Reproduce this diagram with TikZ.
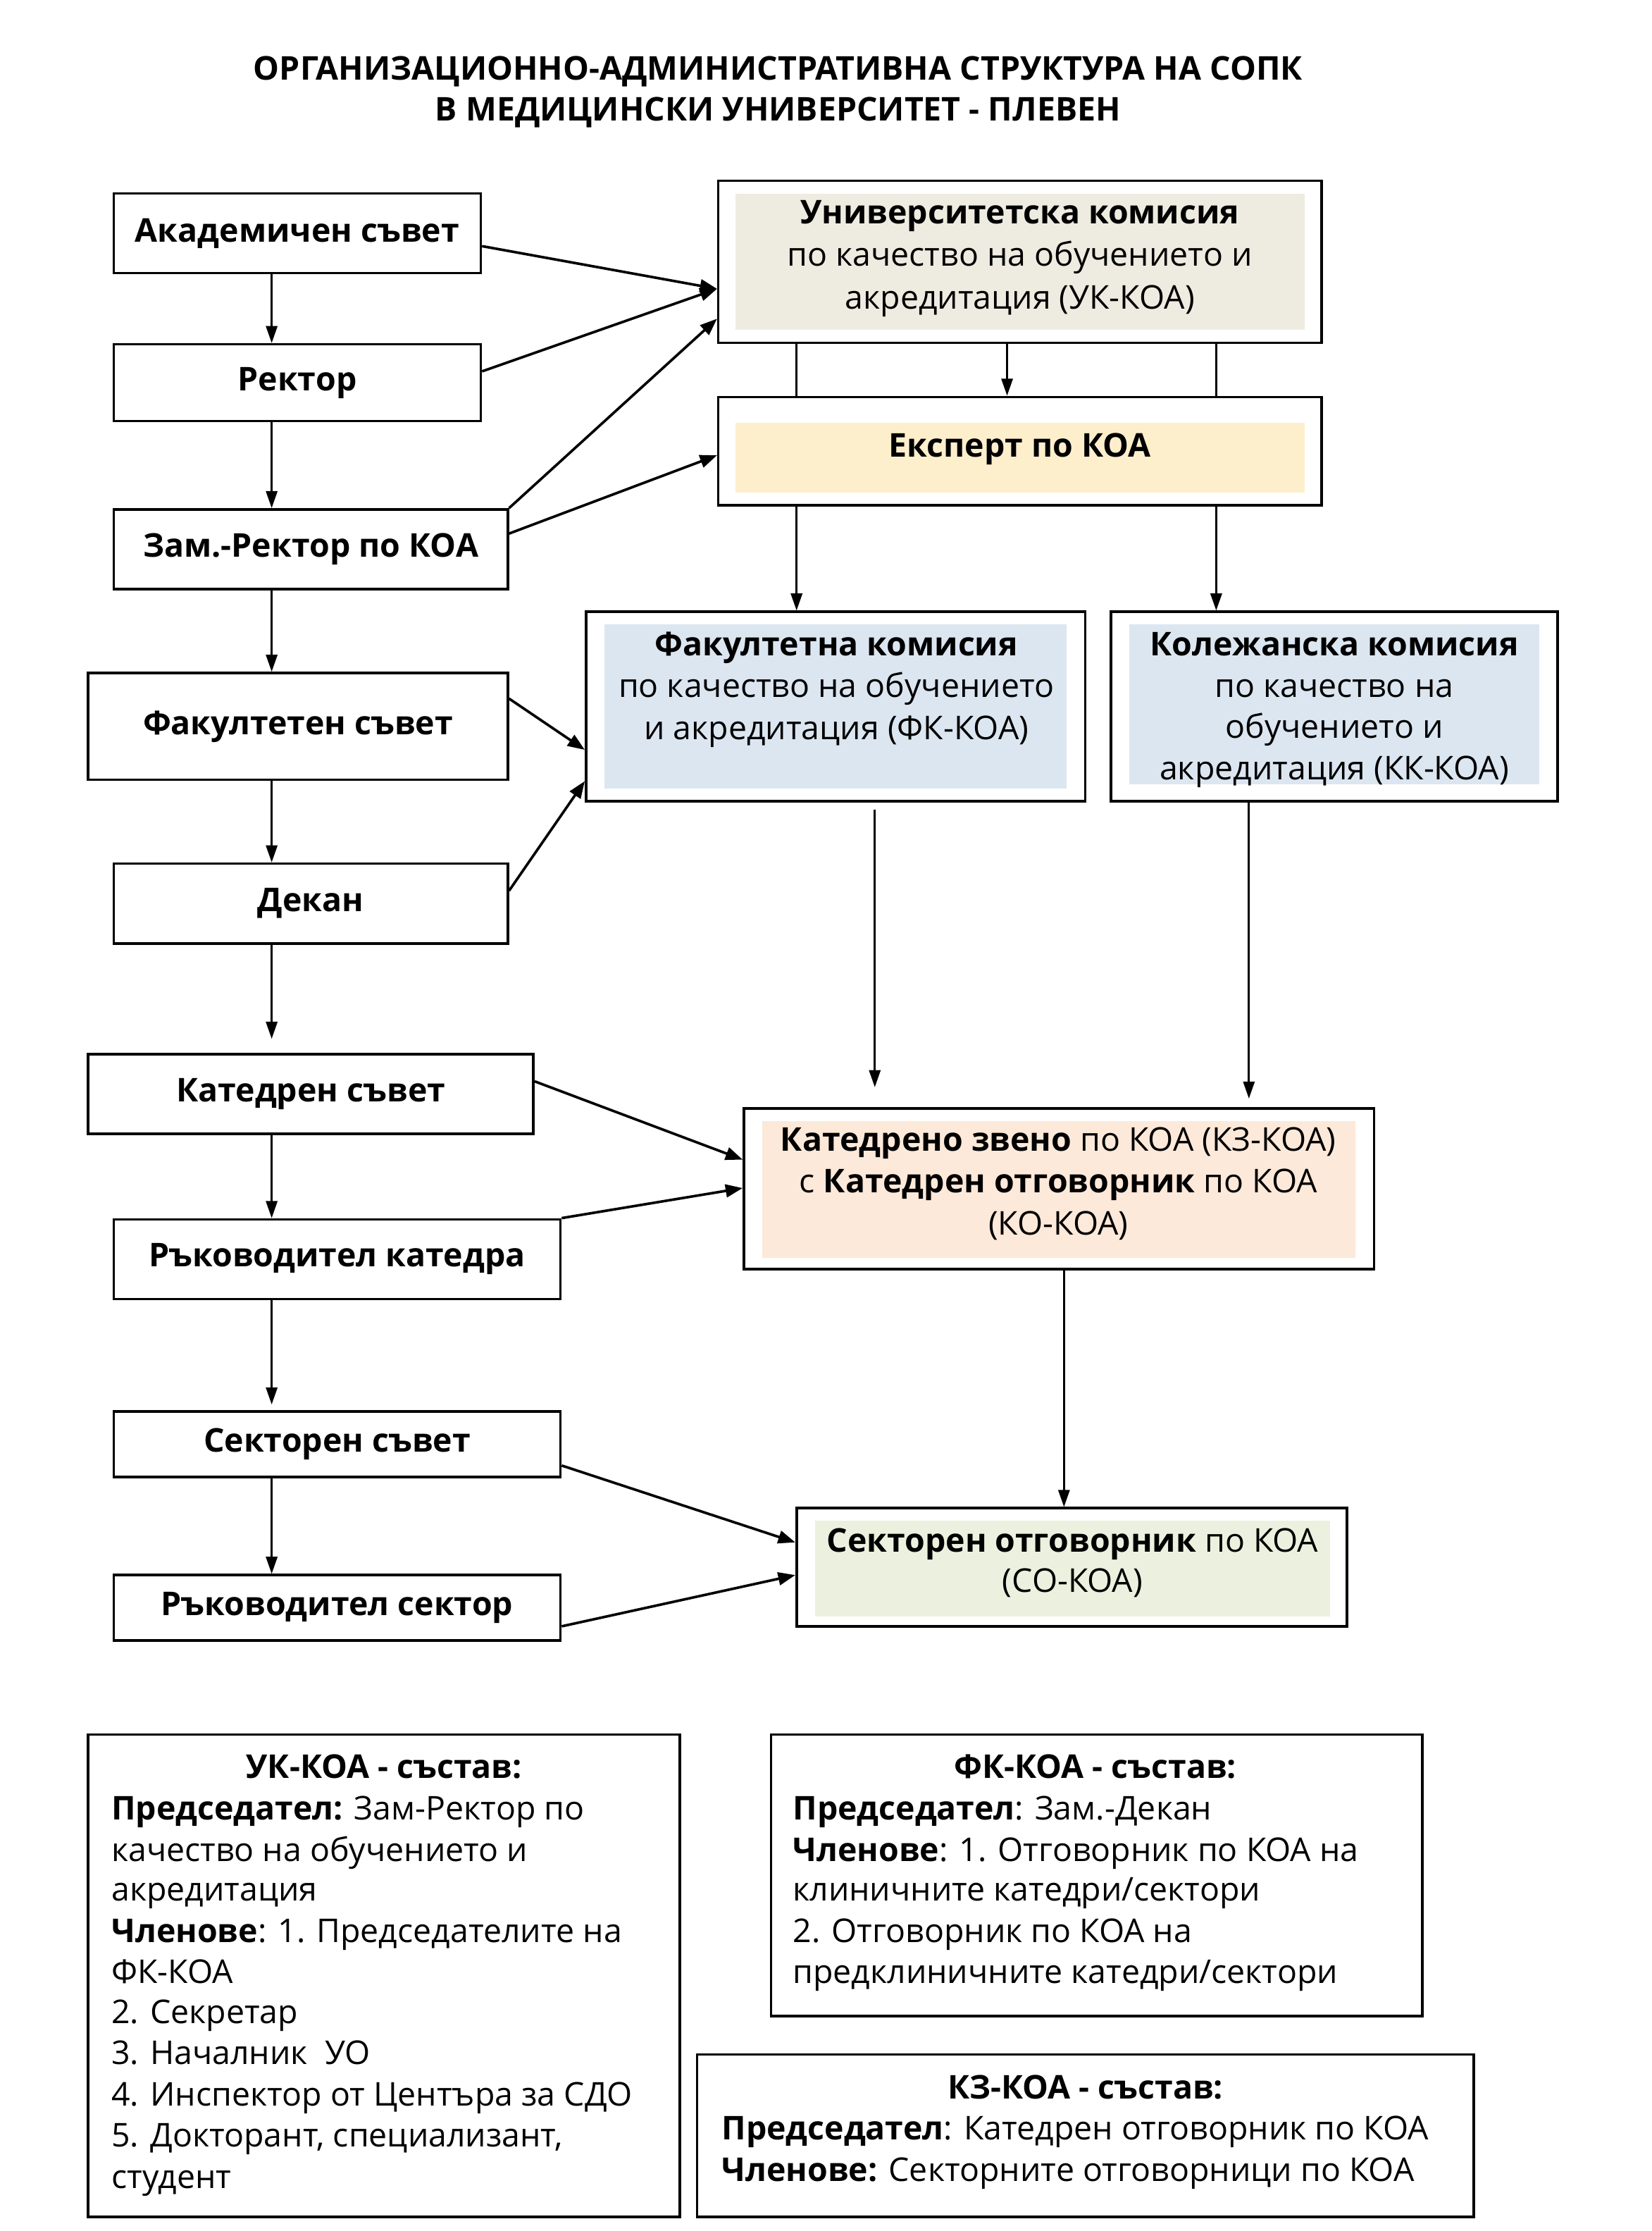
\documentclass[tikz,border=0pt]{standalone}
\usepackage{fontspec}
\setmainfont{Open Sans}
\usetikzlibrary{arrows.meta}
\newcommand\myfs{\fontsize{11.5pt}{14.5pt}\selectfont}
\definecolor{ukc}{HTML}{EEECE1}
\definecolor{expc}{HTML}{FDEFCC}
\definecolor{bluec}{HTML}{DCE6F1}
\definecolor{kzc}{HTML}{FDE9D9}
\definecolor{soc}{HTML}{EBF1DE}
\begin{document}
\begin{tikzpicture}[x=0.5pt,y=-0.5pt,
  box/.style={draw, line width=0.9pt, fill=white, inner sep=0pt, font=\myfs\bfseries},
  outer/.style={draw, line width=0.9pt, fill=white, inner sep=0pt},
  inner/.style={draw=none, inner sep=0pt},
  tx/.style={anchor=base, inner sep=0pt, font=\myfs},
  lt/.style={anchor=base west, inner sep=0pt, font=\myfs},
  arr/.style={line width=0.7pt, -{Triangle[length=6pt,width=4pt]}},
  darr/.style={line width=0.9pt, -{Triangle[length=6pt,width=4.5pt]}},
  ln/.style={line width=0.7pt}]
\useasboundingbox (0,0) rectangle (1161,1568);
\fill[white] (0,0) rectangle (1161,1568);

% title
\node[tx, font=\myfs\bfseries] (t1) at (547,56) {ОРГАНИЗАЦИОННО-АДМИНИСТРАТИВНА СТРУКТУРА НА СОПК};
\node[tx, font=\myfs\bfseries] (t2) at (547,85) {В МЕДИЦИНСКИ УНИВЕРСИТЕТ - ПЛЕВЕН};

% left column
\node[box, minimum width=129pt, minimum height=28pt] (acad) at (209,164) {Академичен съвет};
\node[box, minimum width=129pt, minimum height=27pt] (rect) at (209,269) {Ректор};
\node[box, minimum width=138.5pt, minimum height=28pt] (zam) at (218.5,386) {Зам.-Ректор по КОА};
\node[box, minimum width=147.5pt, minimum height=37.5pt] (fs) at (209.5,510.5) {Факултетен съвет};
\node[box, minimum width=138.5pt, minimum height=28pt] (dek) at (218.5,635) {Декан};
\node[box, minimum width=156.5pt, minimum height=28pt] (ks) at (218.5,769) {Катедрен съвет};
\node[box, minimum width=157pt, minimum height=28pt] (rk) at (237,885) {Ръководител катедра};
\node[box, minimum width=157pt, minimum height=23pt] (ss) at (237,1015) {Секторен съвет};
\node[box, minimum width=157pt, minimum height=23pt] (rs) at (237,1130) {Ръководител сектор};

% right column
\node[outer, minimum width=212pt, minimum height=57pt] (ukO) at (717,184) {};
\node[inner, fill=ukc, minimum width=200pt, minimum height=48pt] (ukI) at (717,184) {};
\node[tx, font=\myfs\bfseries] (uk1) at (717,157) {Университетска комисия};
\node[tx] (uk2) at (717,187) {по качество на обучението и};
\node[tx] (uk3) at (717,217) {акредитация (УК-КОА)};

\node[outer, minimum width=212pt, minimum height=38pt] (expO) at (717,317) {};
\node[inner, fill=expc, minimum width=200pt, minimum height=24.5pt] (expI) at (717,321.5) {};
\node[tx, font=\myfs\bfseries] (exp1) at (717,321) {Експерт по КОА};

\node[outer, minimum width=175.5pt, minimum height=66.5pt] (fkO) at (587.5,496.5) {};
\node[inner, fill=bluec, minimum width=162.5pt, minimum height=57.5pt] (fkI) at (587.5,496.5) {};
\node[tx, font=\myfs\bfseries] (fk1) at (588,461) {Факултетна комисия};
\node[tx] (fk2) at (588,490) {по качество на обучението};
\node[tx] (fk3) at (588,520) {и акредитация (ФК-КОА)};

\node[outer, minimum width=157pt, minimum height=66.5pt] (kkO) at (938,496.5) {};
\node[inner, fill=bluec, minimum width=144pt, minimum height=56pt] (kkI) at (938,495) {};
\node[tx, font=\myfs\bfseries] (kk1) at (938,461) {Колежанска комисия};
\node[tx] (kk2) at (938,490) {по качество на};
\node[tx] (kk3) at (938,519) {обучението и};
\node[tx] (kk4) at (938,548) {акредитация (КК-КОА)};

\node[outer, minimum width=221.5pt, minimum height=56.5pt] (kzO) at (744.5,835.5) {};
\node[inner, fill=kzc, minimum width=208.5pt, minimum height=48pt] (kzI) at (744.5,836) {};
\node[tx] (kz1) at (744,809) {\textbf{Катедрено звено} по КОА (КЗ-КОА)};
\node[tx] (kz2) at (744,838) {с \textbf{Катедрен отговорник} по КОА};
\node[tx] (kz3) at (744,868) {(КО-КОА)};

\node[outer, minimum width=193.5pt, minimum height=41.5pt] (soO) at (753.5,1101.5) {};
\node[inner, fill=soc, minimum width=181pt, minimum height=33.5pt] (soI) at (754,1102.5) {};
\node[tx] (so1) at (754,1091) {\textbf{Секторен отговорник} по КОА};
\node[tx] (so2) at (754,1119) {(СО-КОА)};

% left vertical arrows
\draw[arr] (acad.south -| 191,0) -- (rect.north -| 191,0);
\draw[arr] (rect.south -| 191,0) -- (zam.north -| 191,0);
\draw[arr] (zam.south -| 191,0) -- (fs.north -| 191,0);
\draw[arr] (fs.south -| 191,0) -- (dek.north -| 191,0);
\draw[arr, shorten >=5pt] (dek.south -| 191,0) -- (ks.north -| 191,0);
\draw[arr] (ks.south -| 191,0) -- (rk.north -| 191,0);
\draw[arr, shorten >=2pt] (rk.south -| 191,0) -- (ss.north -| 191,0);
\draw[arr] (ss.south -| 191,0) -- (rs.north -| 191,0);

% right vertical connectors
\draw[arr] (ukO.south -| 708,0) -- (expO.north -| 708,0);
\draw[ln] (ukO.south -| 560,0) -- (expO.north -| 560,0);
\draw[ln] (ukO.south -| 855,0) -- (expO.north -| 855,0);
\draw[arr] (expO.south -| 560,0) -- (fkO.north -| 560,0);
\draw[arr] (expO.south -| 855,0) -- (kkO.north -| 855,0);
\draw[arr, shorten <=2.5pt, shorten >=7pt] (fkO.south -| 615,0) -- (kzO.north -| 615,0);
\draw[arr, shorten >=3pt] (kkO.south -| 878,0) -- (kzO.north -| 878,0);
\draw[arr] (kzO.south -| 748,0) -- (soO.north -| 748,0);

% diagonal arrows
\draw[darr] (acad.east |- 0,173) -- (ukO.west |- 0,203);
\draw[darr] (rect.east |- 0,261) -- (ukO.west |- 0,203);
\draw[darr] (zam.north east) -- (ukO.west |- 0,224);
\draw[darr] (zam.east |- 0,375) -- (expO.west |- 0,320);
\draw[darr] (fs.east |- 0,491) -- (fkO.west |- 0,527);
\draw[darr] (dek.east |- 0,626) -- (fkO.west |- 0,549);
\draw[darr] (ks.east |- 0,760) -- (kzO.west |- 0,815);
\draw[darr] (rk.north east) -- (kzO.west |- 0,835);
\draw[darr] (ss.east |- 0,1030) -- (soO.west |- 0,1084);
\draw[darr] (rs.east |- 0,1143) -- (soO.west |- 0,1107);

% legends
\node[outer, minimum width=208pt, minimum height=169.5pt] (l1) at (270,1388.5) {};
\node[tx, font=\myfs\bfseries] (l1t) at (270,1250) {УК-КОА - състав:};
\node[lt] (l1a) at (78,1279) {\textbf{Председател:} Зам-Ректор по};
\node[lt] (l1b) at (78,1308) {качество на обучението и};
\node[lt] (l1c) at (78,1336) {акредитация};
\node[lt] (l1d) at (78,1365) {\textbf{Членове}: 1. Председателите на};
\node[lt] (l1e) at (78,1394) {ФК-КОА};
\node[lt] (l1f) at (78,1422) {2. Секретар};
\node[lt] (l1g) at (78,1451) {3. Началник\ \ УО};
\node[lt] (l1h) at (78,1480) {4. Инспектор от Центъра за СДО};
\node[lt] (l1i) at (78,1509) {5. Докторант, специализант,};
\node[lt] (l1j) at (78,1538) {студент};

\node[outer, minimum width=229pt, minimum height=99pt] (l2) at (771,1318) {};
\node[tx, font=\myfs\bfseries] (l2t) at (770,1250) {ФК-КОА - състав:};
\node[lt] (l2a) at (557,1279) {\textbf{Председател}: Зам.-Декан};
\node[lt] (l2b) at (557,1308) {\textbf{Членове}: 1. Отговорник по КОА на};
\node[lt] (l2c) at (557,1336) {клиничните катедри/сектори};
\node[lt] (l2d) at (557,1365) {2. Отговорник по КОА на};
\node[lt] (l2e) at (557,1394) {предклиничните катедри/сектори};

\node[outer, minimum width=273pt, minimum height=57pt] (l3) at (763,1501) {};
\node[tx, font=\myfs\bfseries] (l3t) at (763,1475) {КЗ-КОА - състав:};
\node[lt] (l3a) at (507,1504) {\textbf{Председател}: Катедрен отговорник по КОА};
\node[lt] (l3b) at (507,1533) {\textbf{Членове:} Секторните отговорници по КОА};
\end{tikzpicture}
\end{document}
